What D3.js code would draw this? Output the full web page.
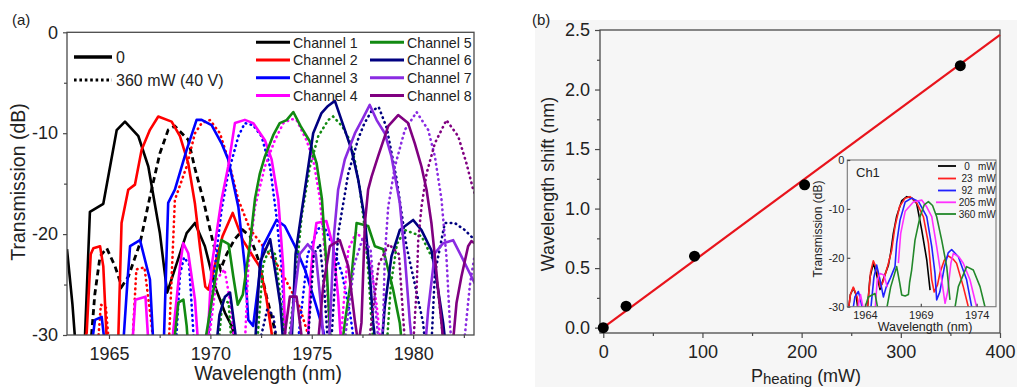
<!DOCTYPE html>
<html><head><meta charset="utf-8">
<script src="https://cdn.jsdelivr.net/npm/d3@7"></script>
<style>body{margin:0;background:#fff}svg{display:block;font-family:Arial,"Liberation Sans",sans-serif}</style>
</head><body><svg id="c" width="1017" height="387"></svg>
<script>
// ---------- Panel (a) data: [wavelength nm, transmission dB] ----------
const channelNames = ["Channel 1","Channel 2","Channel 3","Channel 4","Channel 5","Channel 6","Channel 7","Channel 8"];
const channelColors = ["#000000","#ff0000","#0000ff","#ff00ff","#128a12","#000080","#8a2be2","#800080"];
const ch1Solid = [[1962.93,-21.5],[1963.2,-27],[1963.35,-31],[1963.8,-31],[1964.06,-17.8],[1964.72,-17.0],[1965.38,-9.7],[1965.79,-8.85],[1966.45,-10.3],[1966.94,-13.3],[1967.51,-19.9],[1967.87,-25.8],[1968.83,-19.9],[1969.24,-18.9],[1969.73,-21.2],[1970.23,-25.2],[1970.72,-27.8],[1971.05,-29.1],[1971.3,-31]];
const ch1Heated = [[1964.1,-31],[1964.3,-26],[1964.56,-22.2],[1964.89,-21.4],[1965.3,-23.2],[1965.63,-25.2],[1965.96,-24.2],[1966.53,-20.9],[1967.02,-16.3],[1967.51,-12.0],[1967.92,-9.67],[1968.25,-9.3],[1968.91,-10.66],[1969.24,-13.5],[1969.65,-16.6],[1970.14,-20.9],[1970.5,-23.5],[1970.8,-22],[1971.2,-20.5],[1971.6,-19.6],[1971.95,-20.2],[1972.36,-22.5],[1972.77,-26.2],[1973.1,-28.8],[1973.3,-31]];
const ch2Solid = [[1963.7,-31],[1963.9,-29.8],[1964.1,-22],[1964.23,-21.4],[1964.56,-21.2],[1964.72,-23.2],[1964.9,-31],[1965.45,-31],[1965.62,-18.9],[1965.95,-15.6],[1966.28,-15.1],[1966.61,-11.65],[1967.02,-9.67],[1967.43,-8.35],[1968.09,-8.85],[1968.5,-10.3],[1968.91,-13],[1969.24,-17],[1969.5,-21.5],[1969.75,-25.2],[1969.9,-25.5],[1970.1,-24],[1970.6,-20.2],[1971.1,-17.9],[1971.6,-20.6],[1972.1,-22.2],[1972.45,-23.3],[1972.75,-26.2],[1973.0,-29.5],[1973.1,-31]];
const ch2Heated = [[1964.45,-31],[1964.6,-27],[1964.85,-27.3],[1965.0,-31],[1966.15,-31],[1966.35,-23.5],[1966.75,-23.3],[1967.1,-29],[1967.2,-31],[1967.95,-31],[1968.25,-16.6],[1968.83,-13.3],[1969.24,-10.0],[1969.57,-9.0],[1969.98,-8.7],[1970.47,-10.0],[1970.88,-12.6],[1971.38,-16.6],[1971.95,-19.5],[1972.6,-21.2],[1973.26,-22.9],[1973.7,-24.5],[1974.4,-27.2],[1974.9,-30.5]];
const ch3Solid = [[1964.15,-31],[1964.31,-28.5],[1964.64,-28.2],[1964.8,-31],[1965.7,-31],[1965.9,-25],[1966.04,-21.2],[1966.53,-20.6],[1967.02,-24.5],[1967.19,-31],[1967.7,-31],[1967.92,-16.9],[1968.25,-15.6],[1968.83,-11.65],[1969.32,-8.68],[1969.57,-8.68],[1970.06,-9.2],[1970.55,-11.0],[1970.88,-12.6],[1971.38,-17.3],[1971.7,-23.2],[1971.87,-28.5],[1972.11,-29.1],[1972.6,-21.2],[1973.26,-18.6],[1973.67,-19.2],[1974.17,-21.2],[1974.66,-23.5],[1975.2,-27],[1975.56,-29.5],[1975.7,-31]];
const ch3Heated = [[1968.3,-31],[1968.5,-24],[1968.7,-22.3],[1968.95,-23],[1969.2,-31],[1969.85,-31],[1970.23,-23.2],[1970.55,-17.6],[1970.88,-14],[1971.38,-10.3],[1971.7,-9.0],[1972.11,-9.2],[1972.52,-10.3],[1972.94,-13.3],[1973.26,-18.25],[1973.51,-23.2],[1973.68,-29.8],[1973.8,-31],[1974.3,-31],[1974.8,-22],[1975.3,-19.5],[1975.6,-19.2],[1976.0,-21],[1976.5,-24],[1976.9,-28],[1977.1,-31]];
const ch4Solid = [[1966.15,-31],[1966.3,-26.5],[1966.8,-26.2],[1966.95,-31],[1968.1,-31],[1968.5,-23.2],[1968.66,-20.9],[1968.91,-21.9],[1969.24,-26.5],[1969.4,-31],[1969.85,-31],[1970.06,-23.2],[1970.55,-16.6],[1970.88,-13.3],[1971.21,-9.0],[1971.7,-8.68],[1972.11,-9.0],[1972.69,-10.7],[1973.02,-12.6],[1973.35,-16.6],[1973.59,-23.2],[1973.68,-29.8],[1973.75,-31],[1974.8,-31],[1974.95,-24],[1975.07,-21.2],[1975.23,-18.9],[1975.72,-18.7],[1976.05,-21.2],[1976.3,-26.2],[1976.45,-31]];
const ch4Heated = [[1969.9,-31],[1970.3,-24.5],[1970.7,-23.5],[1971.0,-27],[1971.2,-31],[1971.7,-31],[1971.87,-23.2],[1972.2,-17.3],[1972.69,-13.3],[1973.18,-10.7],[1973.6,-9.0],[1974.0,-8.6],[1974.25,-8.7],[1974.74,-10.7],[1975.07,-12.6],[1975.4,-16.5],[1975.7,-23],[1975.85,-29.5],[1975.95,-31],[1976.4,-31],[1976.8,-21.5],[1977.2,-19.8],[1977.5,-20.5],[1977.9,-23],[1978.2,-27],[1978.4,-31]];
const ch5Solid = [[1968.2,-31],[1968.42,-26.8],[1968.67,-26.5],[1968.83,-29.1],[1968.9,-31],[1969.7,-31],[1969.81,-29.8],[1970.55,-20.6],[1970.9,-21.0],[1971.13,-24.2],[1971.35,-27],[1971.6,-26],[1971.95,-21],[1972.2,-16.5],[1972.44,-14.0],[1972.69,-12.3],[1973.1,-10.2],[1973.42,-9.0],[1973.76,-8.7],[1974.09,-7.9],[1974.45,-9.3],[1974.9,-10.8],[1975.24,-13.0],[1975.5,-16.5],[1975.73,-23.2],[1975.9,-29.8],[1976.0,-31],[1976.5,-31],[1976.63,-28.8],[1976.96,-24.2],[1977.21,-18.9],[1977.78,-19.2],[1978.11,-21.2],[1978.52,-21.5],[1979.01,-25.5],[1979.34,-28.8],[1979.45,-31]];
const ch5Heated = [[1970.4,-31],[1970.6,-26.5],[1970.9,-26.8],[1971.05,-31],[1972.3,-31],[1972.6,-23],[1972.9,-21.5],[1973.2,-22],[1973.5,-27],[1973.7,-31],[1973.84,-31],[1974.17,-25.2],[1974.5,-18.25],[1974.91,-13.3],[1975.32,-10.3],[1975.81,-8.7],[1976.05,-8.35],[1976.5,-9.3],[1976.87,-10.7],[1977.13,-12.8],[1977.37,-15.5],[1977.62,-19.6],[1977.8,-24],[1977.95,-28.8],[1978.05,-31],[1978.7,-31],[1978.9,-25],[1979.2,-21],[1979.59,-19.6],[1980.41,-20.2],[1981.07,-22.9],[1981.3,-27],[1981.4,-28.8],[1981.5,-31]];
const ch6Solid = [[1970.3,-31],[1970.45,-28],[1970.72,-26.2],[1970.97,-25.8],[1971.21,-29.5],[1971.3,-31],[1972.2,-31],[1972.45,-22.8],[1972.95,-20.5],[1973.3,-25],[1973.45,-27],[1973.6,-31],[1974.0,-31],[1974.2,-22],[1974.42,-18.9],[1974.66,-15.6],[1975.07,-10.0],[1975.48,-8.0],[1975.8,-7.3],[1976.14,-6.8],[1976.63,-9.67],[1976.96,-11.65],[1977.29,-14.6],[1977.62,-18.6],[1977.86,-23.9],[1978.03,-28.8],[1978.15,-31],[1978.45,-31],[1978.6,-27.2],[1978.93,-22.2],[1979.34,-19.6],[1980.0,-18.6],[1980.41,-19.6],[1980.9,-21.6],[1981.23,-25.5],[1981.48,-28.8],[1981.6,-31]];
const ch6Heated = [[1972.4,-31],[1972.8,-27.5],[1973.1,-28],[1973.3,-31],[1974.8,-31],[1975.1,-22],[1975.4,-21],[1975.6,-25],[1975.8,-31],[1975.95,-31],[1976.3,-20],[1976.8,-14],[1977.3,-10.5],[1977.6,-9],[1977.95,-7.8],[1978.3,-7.4],[1978.7,-9.5],[1979.18,-14.5],[1979.67,-21.2],[1980.0,-24.2],[1980.49,-28.8],[1980.6,-31],[1980.9,-31],[1981.07,-23.9],[1981.56,-18.9],[1982.05,-18.9],[1982.55,-19.6],[1983.04,-20.6]];
const ch7Solid = [[1973.9,-31],[1974.1,-27],[1974.4,-22],[1974.8,-21],[1975.2,-22],[1975.45,-27],[1975.6,-31],[1975.85,-31],[1976.1,-20],[1976.3,-15.6],[1976.63,-12.6],[1977.13,-10.0],[1977.5,-8.6],[1977.86,-7.2],[1978.2,-8.7],[1978.6,-10.0],[1978.93,-12.3],[1979.34,-16.9],[1979.59,-22.2],[1979.84,-28.8],[1979.95,-31],[1980.6,-31],[1980.74,-27.5],[1981.07,-21.9],[1981.48,-20.9],[1981.97,-20.6],[1982.38,-22.2],[1982.87,-24.2],[1983.04,-24.9]];
const ch7Heated = [[1976.6,-31],[1977.1,-23],[1977.5,-20.5],[1977.9,-21.5],[1978.3,-31],[1978.45,-31],[1978.52,-28.8],[1978.6,-22.2],[1978.77,-17.3],[1979.1,-13.3],[1979.59,-9.67],[1980.17,-7.9],[1980.74,-9.67],[1981.07,-12.3],[1981.4,-16.6],[1981.64,-22.2],[1981.81,-28.8],[1981.9,-31],[1982.5,-31],[1982.8,-25],[1983.04,-22]];
const ch8Solid = [[1973.6,-31],[1973.92,-26.2],[1974.25,-26.2],[1974.49,-30],[1974.6,-31],[1975.3,-31],[1975.56,-25.2],[1975.89,-21.2],[1976.38,-20.6],[1976.8,-23.2],[1977.12,-28.5],[1977.3,-31],[1977.45,-28.8],[1977.55,-23],[1977.62,-18.9],[1977.78,-15.6],[1977.95,-14.3],[1978.27,-12.3],[1978.77,-9.3],[1979.26,-8.2],[1979.75,-9.0],[1980.08,-11.0],[1980.41,-13.3],[1980.66,-15.6],[1980.9,-18.9],[1981.07,-22.2],[1981.23,-25.5],[1981.4,-28.8],[1981.5,-31],[1981.95,-31],[1982.14,-26.8],[1982.38,-24.2],[1982.71,-21.2],[1982.87,-20.7],[1983.04,-20.9]];
const ch8Heated = [[1977.8,-31],[1978.3,-23],[1978.8,-21],[1979.3,-22],[1979.6,-31],[1980.0,-31],[1980.17,-25.5],[1980.25,-20.6],[1980.41,-17.3],[1980.66,-14.0],[1981.07,-11.0],[1981.64,-8.7],[1982.22,-10.3],[1982.63,-13.0],[1982.96,-15.6],[1983.04,-16]];
const solidCurves = [ch1Solid,ch2Solid,ch3Solid,ch4Solid,ch5Solid,ch6Solid,ch7Solid,ch8Solid];
const heatedCurves = [ch1Heated,ch2Heated,ch3Heated,ch4Heated,ch5Heated,ch6Heated,ch7Heated,ch8Heated];
const aXTicks = [1965,1970,1975,1980];
const aXMinor = [1967.5,1972.5,1977.5,1982.5];
const aYTicks = [0,-10,-20,-30];
const aYMinor = [-5,-15,-25];

// ---------- Panel (b) data ----------
const heatingPower = [0,23,92,203,360];          // mW
const wavelengthShift = [0,0.18,0.6,1.2,2.2];    // nm
const fitPower = [0,400];
const fitShift = [0,2.46];
const bXTicks = [0,100,200,300,400];
const bXMinor = [50,150,250,350];
const bYTicks = [0,0.5,1.0,1.5,2.0,2.5];
const bYMinor = [0.25,0.75,1.25,1.75,2.25];

// ---------- Inset (Ch1) data ----------
const insetLabels = ["0","23","92","205","360"];
const insetColors = ["#000000","#ff2020","#2020ff","#ff30ff","#22882a"];
const inset0 = [[1962.5,-31],[1962.7,-27.5],[1962.96,-26.2],[1963.2,-27.5],[1963.4,-31],[1964.2,-31],[1964.45,-24],[1964.75,-21.1],[1965.0,-23],[1965.35,-26.5],[1965.7,-24],[1966.1,-21.5],[1966.3,-19],[1966.54,-15],[1966.84,-11.5],[1967.3,-8.3],[1967.74,-7.5],[1968.2,-7.8],[1968.63,-8.9],[1969.08,-14.3],[1969.53,-20.4],[1969.83,-26.6]];
const inset23 = [[1962.5,-31],[1962.7,-27.5],[1962.96,-26],[1963.3,-28],[1963.5,-31],[1964.2,-31],[1964.5,-23],[1964.75,-20.6],[1965.1,-22.5],[1965.35,-26],[1965.6,-25],[1966.0,-22],[1966.4,-18.4],[1966.69,-13.6],[1967.1,-9.5],[1967.6,-7.8],[1968.03,-7.5],[1968.6,-8.6],[1969.23,-11.6],[1969.68,-17],[1969.98,-24.5],[1970.2,-27],[1970.5,-25.5],[1970.72,-23],[1971.1,-20.5],[1971.46,-19.6],[1971.9,-20.3],[1972.2,-21.1],[1972.8,-25.9],[1973.25,-30],[1973.35,-31]];
const inset92 = [[1962.9,-31],[1963.1,-28],[1963.41,-26.9],[1963.6,-28.5],[1963.8,-31],[1964.5,-31],[1964.8,-24],[1965.05,-21.5],[1965.35,-24.5],[1965.65,-28],[1965.9,-26],[1966.3,-24],[1966.69,-21.8],[1966.84,-17],[1967.14,-12.3],[1967.6,-8.6],[1968.18,-7.8],[1968.8,-8.5],[1969.53,-11.6],[1969.98,-17.7],[1970.27,-23.2],[1970.42,-28.6],[1970.7,-27],[1971.1,-22],[1971.45,-19],[1971.76,-18.3],[1972.36,-19.8],[1973.1,-24.5],[1973.55,-30],[1973.65,-31]];
const inset205 = [[1963.3,-31],[1963.6,-27.5],[1963.9,-31],[1964.9,-31],[1965.1,-24.5],[1965.35,-23.2],[1965.7,-23.5],[1966.0,-26],null,[1966.99,-21.1],[1967.2,-15],[1967.6,-10.5],[1968.33,-8.6],[1969.08,-8.2],[1969.5,-9.5],[1969.98,-11.6],[1970.42,-17.7],[1970.87,-24.5],[1971.17,-29.3],[1971.4,-27],[1971.7,-21],[1971.91,-19.1],[1972.4,-19.8],[1972.8,-21.1],[1973.4,-24.5],[1973.99,-30],[1974.1,-31]];
const inset360 = [[1963.9,-31],[1964.3,-28],[1964.9,-27.3],[1965.2,-31],[1965.9,-31],[1966.3,-26],[1966.84,-21.8],[1967.1,-25],[1967.29,-27.6],[1967.6,-27.8],[1967.89,-27.5],[1968.0,-25],[1968.18,-22.5],[1968.48,-16.4],[1968.93,-11.6],[1969.3,-9.2],[1969.68,-8.5],[1970.05,-9.3],[1970.42,-11.6],[1970.87,-16.4],[1971.32,-21.8],[1971.61,-28.6],null,[1972.0,-31],[1972.36,-25.9],[1973.1,-21.8],[1973.7,-22.5],[1974.3,-25.9],[1974.74,-30],[1974.85,-31]];
const insetCurves = [inset0,inset23,inset92,inset205,inset360];
const insetXTicks = [1964,1969,1974];
const insetYTicks = [0,-10,-20,-30];

// ---------- Drawing ----------
const svg = d3.select('#c');
const axisColor = '#4a4a4a', textColor = '#222';

function styleAxis(g, fs) {
  g.select('.domain').remove();
  g.selectAll('.tick line').attr('stroke', axisColor).attr('stroke-width', 1.2);
  g.selectAll('.tick text').attr('fill', textColor).attr('font-size', fs).attr('font-family', 'Arial, "Liberation Sans", sans-serif');
}

// panel (b) background
svg.append('rect').attr('x', 535).attr('y', 20).attr('width', 482).attr('height', 367).attr('fill', '#f6f6f6');

// ===== Panel (a) =====
const xA = d3.scaleLinear().domain([1962.93, 1983.0]).range([67, 474]);
const yA = d3.scaleLinear().domain([-30, 0]).range([335, 32.3]);

svg.append('defs').append('clipPath').attr('id', 'clipA').append('rect')
  .attr('x', 67).attr('y', 32.3).attr('width', 407).attr('height', 302.7);
svg.select('defs').append('clipPath').attr('id', 'clipI').append('rect')
  .attr('x', 847.3).attr('y', 160).attr('width', 148.7).attr('height', 146.7);

const lineA = d3.line().defined(d => d != null).x(d => xA(d[0])).y(d => yA(d[1]));
const gCurves = svg.append('g').attr('clip-path', 'url(#clipA)');
for (let i = 0; i < 8; i++) {
  gCurves.append('path').datum(solidCurves[i]).attr('d', lineA)
    .attr('fill', 'none').attr('stroke', channelColors[i]).attr('stroke-width', 2.6).attr('stroke-linejoin', 'round');
  const p = gCurves.append('path').datum(heatedCurves[i]).attr('d', lineA)
    .attr('fill', 'none').attr('stroke', channelColors[i]).attr('stroke-width', i === 0 ? 2.8 : 2.6);
  if (i === 0) p.attr('stroke-dasharray', '6,4');
  else p.attr('stroke-dasharray', '0.5,4.6').attr('stroke-linecap', 'round');
}

svg.append('rect').attr('x', 67).attr('y', 32.3).attr('width', 407).attr('height', 302.7)
  .attr('fill', 'none').attr('stroke', axisColor).attr('stroke-width', 1.3);

svg.append('g').attr('transform', 'translate(0,335)')
  .call(d3.axisBottom(xA).tickValues(aXTicks).tickSize(4).tickPadding(8).tickFormat(d => String(d)))
  .call(g => styleAxis(g, 18));
svg.append('g').attr('transform', 'translate(0,335)')
  .call(d3.axisBottom(xA).tickValues(aXMinor).tickSize(3).tickFormat(''))
  .call(g => styleAxis(g, 18));
svg.append('g').attr('transform', 'translate(67,0)')
  .call(d3.axisLeft(yA).tickValues(aYTicks).tickSize(4).tickPadding(5).tickFormat(d => String(d)))
  .call(g => styleAxis(g, 18));
svg.append('g').attr('transform', 'translate(67,0)')
  .call(d3.axisLeft(yA).tickValues(aYMinor).tickSize(3).tickFormat(''))
  .call(g => styleAxis(g, 18));

svg.append('text').attr('x', 12).attr('y', 25).attr('font-size', 15).attr('fill', textColor).text('(a)');
svg.append('text').attr('transform', 'translate(25,182) rotate(-90)').attr('text-anchor', 'middle')
  .attr('font-size', 19.5).attr('fill', textColor).text('Transmission (dB)');
svg.append('text').attr('x', 268).attr('y', 380).attr('text-anchor', 'middle')
  .attr('font-size', 19.5).attr('fill', textColor).text('Wavelength (nm)');

// legend left
svg.append('line').attr('x1', 74).attr('x2', 112).attr('y1', 57).attr('y2', 57).attr('stroke', '#000').attr('stroke-width', 3.5);
svg.append('text').attr('x', 116).attr('y', 63).attr('font-size', 16).attr('fill', textColor).text('0');
svg.append('line').attr('x1', 74).attr('x2', 112).attr('y1', 80).attr('y2', 80).attr('stroke', '#000').attr('stroke-width', 3.2).attr('stroke-dasharray', '2.6,2.8');
svg.append('text').attr('x', 116).attr('y', 86).attr('font-size', 16).attr('fill', textColor).text('360 mW (40 V)');

// legend right
const legColX = [256, 370], legRowY = [42.3, 60, 77.7, 95.5];
channelNames.forEach((name, i) => {
  const cx = legColX[Math.floor(i / 4)], cy = legRowY[i % 4];
  svg.append('line').attr('x1', cx).attr('x2', cx + 34).attr('y1', cy).attr('y2', cy)
    .attr('stroke', channelColors[i]).attr('stroke-width', 3);
  svg.append('text').attr('x', cx + 37).attr('y', cy + 5.2).attr('font-size', 14.2).attr('fill', textColor).text(name);
});

// ===== Panel (b) =====
const xB = d3.scaleLinear().domain([-3.3, 400]).range([600, 1000]);
const yB = d3.scaleLinear().domain([-0.045, 2.5]).range([333, 30]);

svg.append('rect').attr('x', 600).attr('y', 30).attr('width', 400).attr('height', 303)
  .attr('fill', 'none').attr('stroke', axisColor).attr('stroke-width', 1.3);
svg.append('g').attr('transform', 'translate(0,333)')
  .call(d3.axisBottom(xB).tickValues(bXTicks).tickSize(5).tickPadding(7).tickFormat(d => String(d)))
  .call(g => styleAxis(g, 18));
svg.append('g').attr('transform', 'translate(0,333)')
  .call(d3.axisBottom(xB).tickValues(bXMinor).tickSize(3).tickFormat(''))
  .call(g => styleAxis(g, 18));
svg.append('g').attr('transform', 'translate(600,0)')
  .call(d3.axisLeft(yB).tickValues(bYTicks).tickSize(5).tickPadding(5).tickFormat(d3.format('.1f')))
  .call(g => styleAxis(g, 18));
svg.append('g').attr('transform', 'translate(600,0)')
  .call(d3.axisLeft(yB).tickValues(bYMinor).tickSize(3).tickFormat(''))
  .call(g => styleAxis(g, 18));

svg.append('path').datum(fitPower.map((p, i) => [p, fitShift[i]]))
  .attr('d', d3.line().x(d => xB(d[0])).y(d => yB(d[1])))
  .attr('fill', 'none').attr('stroke', '#e8141c').attr('stroke-width', 2.2);
svg.selectAll('circle.pt').data(heatingPower.map((p, i) => [p, wavelengthShift[i]])).enter()
  .append('circle').attr('class', 'pt').attr('cx', d => xB(d[0])).attr('cy', d => yB(d[1])).attr('r', 5.5).attr('fill', '#000');

svg.append('text').attr('x', 532).attr('y', 25).attr('font-size', 15).attr('fill', textColor).text('(b)');
svg.append('text').attr('transform', 'translate(554,184) rotate(-90)').attr('text-anchor', 'middle')
  .attr('font-size', 18).attr('fill', textColor).text('Wavelength shift (nm)');
const xl = svg.append('text').attr('x', 806).attr('y', 382).attr('text-anchor', 'middle').attr('font-size', 18).attr('fill', textColor);
xl.append('tspan').text('P');
xl.append('tspan').attr('font-size', 15).attr('dy', 1.5).text('heating');
xl.append('tspan').attr('dy', -1.5).text(' (mW)');

// ===== Inset =====
const xI = d3.scaleLinear().domain([1962.42, 1975.73]).range([847.3, 996]);
const yI = d3.scaleLinear().domain([-30, 0]).range([306.7, 160]);
const lineI = d3.line().defined(d => d != null).x(d => xI(d[0])).y(d => yI(d[1]));
const gI = svg.append('g').attr('clip-path', 'url(#clipI)');
insetCurves.forEach((c, i) => {
  gI.append('path').datum(c).attr('d', lineI).attr('fill', 'none')
    .attr('stroke', insetColors[i]).attr('stroke-width', 1.6).attr('stroke-linejoin', 'round');
});
svg.append('rect').attr('x', 847.3).attr('y', 160).attr('width', 148.7).attr('height', 146.7)
  .attr('fill', 'none').attr('stroke', '#777').attr('stroke-width', 1.1);
svg.append('g').attr('transform', 'translate(0,306.7)')
  .call(d3.axisBottom(xI).tickValues(insetXTicks).tickSize(-3).tickPadding(5).tickFormat(d => String(d)))
  .call(g => styleAxis(g, 11));
svg.append('g').attr('transform', 'translate(847.3,0)')
  .call(d3.axisLeft(yI).tickValues(insetYTicks).tickSize(-3).tickPadding(3).tickFormat(d => String(d)))
  .call(g => styleAxis(g, 11));
svg.append('text').attr('transform', 'translate(822,229) rotate(-90)').attr('text-anchor', 'middle')
  .attr('font-size', 12).attr('fill', textColor).text('Transmission (dB)');
svg.append('text').attr('x', 925).attr('y', 331).attr('text-anchor', 'middle')
  .attr('font-size', 12.5).attr('fill', textColor).text('Wavelength (nm)');
svg.append('text').attr('x', 856).attr('y', 177).attr('font-size', 13).attr('fill', textColor).text('Ch1');
const insLegY = [166, 178.5, 190.5, 202.3, 214];
insetLabels.forEach((lab, i) => {
  svg.append('line').attr('x1', i >= 3 ? 936 : 938).attr('x2', 956).attr('y1', insLegY[i]).attr('y2', insLegY[i])
    .attr('stroke', insetColors[i]).attr('stroke-width', 1.8);
  svg.append('text').attr('x', 967).attr('y', insLegY[i] + 3.5).attr('text-anchor', 'middle')
    .attr('font-size', 10).attr('fill', textColor).text(lab);
  svg.append('text').attr('x', 978).attr('y', insLegY[i] + 3.5)
    .attr('font-size', 10).attr('fill', textColor).text('mW');
});
</script></body></html>
